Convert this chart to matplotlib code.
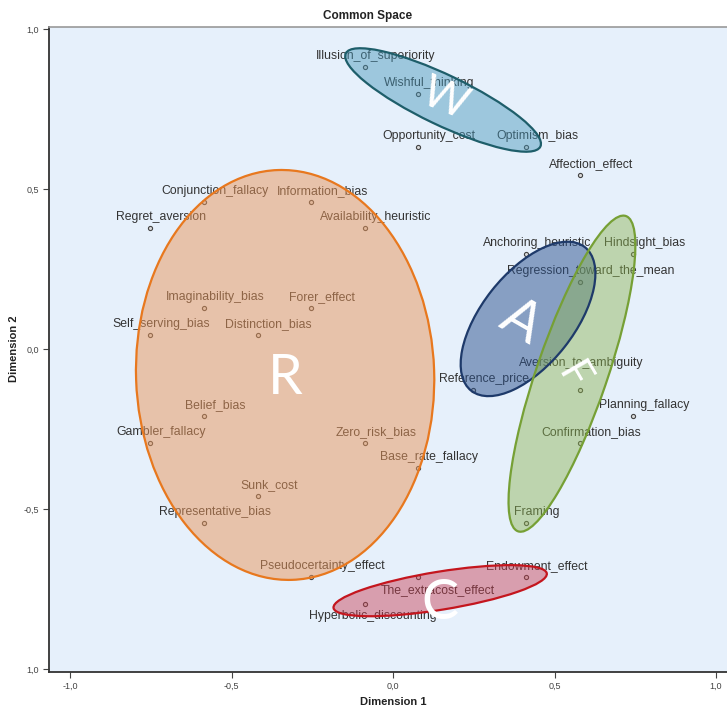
import matplotlib
matplotlib.use('Agg')
import matplotlib.pyplot as plt
from matplotlib.patches import Ellipse

# ---- data ----
names = ["Illusion_of_superiority", "Wishful_thinking", "Opportunity_cost", "Optimism_bias",
         "Affection_effect", "Conjunction_fallacy", "Information_bias", "Regret_aversion",
         "Availability_heuristic", "Anchoring_heuristic", "Hindsight_bias",
         "Regression_toward_the_mean", "Imaginability_bias", "Forer_effect",
         "Self_serving_bias", "Distinction_bias", "Aversion_to_ambiguity", "Reference_price",
         "Belief_bias", "Planning_fallacy", "Gambler_fallacy", "Zero_risk_bias",
         "Confirmation_bias", "Base_rate_fallacy", "Sunk_cost", "Representative_bias",
         "Framing", "Pseudocertainty_effect", "The_extracost_effect", "Endowment_effect",
         "Hyperbolic_discounting"]
dim1 = [-0.087, 0.078, 0.078, 0.412, 0.579, -0.585, -0.254, -0.752, -0.087, 0.412, 0.744,
        0.579, -0.585, -0.254, -0.752, -0.419, 0.579, 0.247, -0.585, 0.744, -0.752, -0.087,
        0.579, 0.078, -0.419, -0.585, 0.412, -0.254, 0.078, 0.412, -0.087]
dim2 = [0.882, 0.797, 0.630, 0.630, 0.544, 0.460, 0.460, 0.377, 0.377, 0.296, 0.296,
        0.210, 0.129, 0.129, 0.044, 0.044, -0.128, -0.128, -0.209, -0.209, -0.293, -0.293,
        -0.293, -0.373, -0.459, -0.545, -0.545, -0.713, -0.713, -0.713, -0.797]

cluster_letters = ["R", "W", "A", "F", "C"]
cluster_cx = [-0.334, 0.155, 0.418, 0.554, 0.146]
cluster_cy = [-0.081, 0.778, 0.094, -0.077, -0.755]
cluster_w = [0.923, 0.669, 0.570, 1.040, 0.669]
cluster_h = [1.281, 0.156, 0.286, 0.219, 0.119]
cluster_angle = [2.0, -25.8, 52.0, 71.3, 9.3]

xtick_vals = [-1.0, -0.5, 0.0, 0.5, 1.0]
xtick_labels = ["-1,0", "-0,5", "0,0", "0,5", "1,0"]
ytick_vals = [-1.0, -0.5, 0.0, 0.5, 1.0]
ytick_labels = ["1,0", "-0,5", "0,0", "0,5", "1,0"]

# ---- styles ----
edge_colors = ["#E8781E", "#1E5E6A", "#1E3A6A", "#76A035", "#C4161E"]
face_colors = ["#E8955A", "#4696B9", "#2A508C", "#8CB450", "#C83C50"]
face_alpha = [0.5, 0.45, 0.5, 0.45, 0.45]
letter_pos = [(-0.334, -0.091), (0.160, 0.780), (0.395, 0.085), (0.555, -0.085), (0.146, -0.794)]
letter_rot = [0, -22, -30, -60, 0]
letter_size = [40, 32, 40, 30, 40]

label_offsets = {"The_extracost_effect": (14, -9.4), "Hyperbolic_discounting": (6, -8.6),
                 "Aversion_to_ambiguity": (1, 19.5)}

fig = plt.figure(figsize=(7.27, 7.09), dpi=100)
ax = fig.add_axes([49/727, 1-672/709, 1-49/727, (672-27)/709])
ax.set_facecolor("#E6F0FB")
ax.set_xlim(-1.065, 1.034)
ax.set_ylim(-1.009, 1.006)

for sp in ["left", "bottom"]:
    ax.spines[sp].set_color("#333333")
    ax.spines[sp].set_linewidth(1.3)
ax.spines["right"].set_visible(False)
ax.spines["top"].set_color("#999999")
ax.spines["top"].set_linewidth(1.2)

ax.set_xticks(xtick_vals)
ax.set_xticklabels(xtick_labels)
ax.set_yticks(ytick_vals)
ax.set_yticklabels(ytick_labels)
ax.tick_params(direction="out", length=4, width=0.8, colors="#444444", labelsize=6.5,
               pad=3)
for t in ax.get_xticklabels() + ax.get_yticklabels():
    t.set_family("Liberation Sans")

ax.plot(dim1, dim2, linestyle="none", marker="o", markersize=3, mfc="#d8d8d8",
        mec="#444444", mew=0.8, zorder=2)

for n, x, y in zip(names, dim1, dim2):
    dx, dy = label_offsets.get(n, (8, 8))
    ax.annotate(n, (x, y), xytext=(dx, dy), textcoords="offset points", ha="center",
                va="center", fontsize=8.8, color="#333333", family="Liberation Sans",
                zorder=2)

for i in range(len(cluster_letters)):
    e = Ellipse((cluster_cx[i], cluster_cy[i]), cluster_w[i], cluster_h[i],
                angle=cluster_angle[i], facecolor=face_colors[i], alpha=face_alpha[i],
                edgecolor="none", zorder=3)
    ax.add_patch(e)
    e2 = Ellipse((cluster_cx[i], cluster_cy[i]), cluster_w[i], cluster_h[i],
                 angle=cluster_angle[i], facecolor="none", edgecolor=edge_colors[i],
                 linewidth=1.6, zorder=4)
    ax.add_patch(e2)
    ax.text(letter_pos[i][0], letter_pos[i][1], cluster_letters[i], rotation=letter_rot[i],
            ha="center", va="center", fontsize=letter_size[i], color="white",
            family="Lato", zorder=5, rotation_mode="anchor")

fig.text(368/727, 1-16/709, "Common Space", ha="center", va="center", fontsize=8.5,
         fontweight="bold", family="Liberation Sans", color="#222222")
fig.text(393/727, 1-702/709, "Dimension 1", ha="center", va="center", fontsize=8,
         fontweight="bold", family="Liberation Sans", color="#222222")
fig.text(14/727, 1-349/709, "Dimension 2", ha="center", va="center", fontsize=8,
         fontweight="bold", family="Liberation Sans", color="#222222", rotation=90)

fig.savefig("out.png", dpi=100)
